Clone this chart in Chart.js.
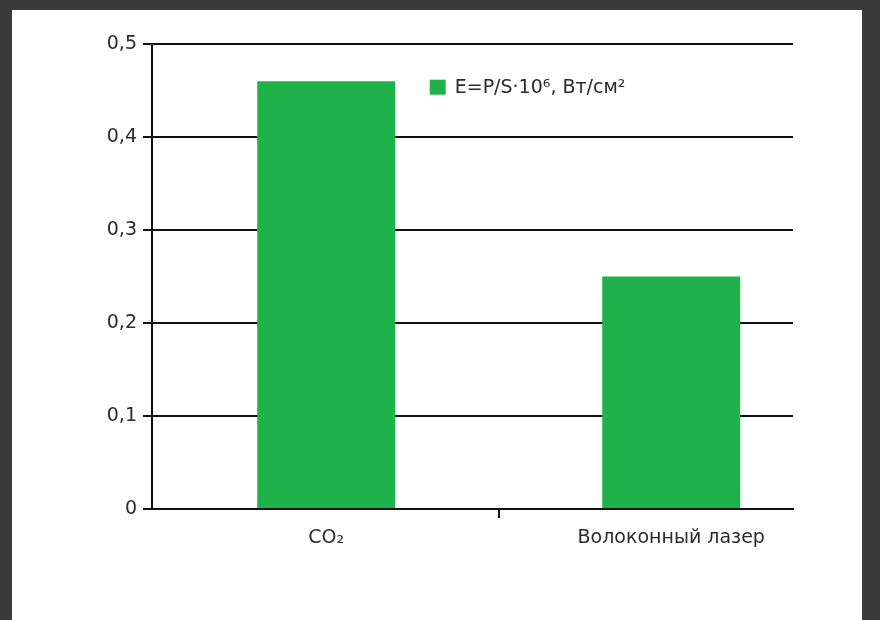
<!DOCTYPE html>
<html>
<head>
<meta charset="utf-8">
<script src="https://cdn.jsdelivr.net/npm/chart.js@4.4.1/dist/chart.umd.min.js"></script>
<style>
  html, body { margin: 0; padding: 0; }
  body { width: 880px; height: 620px; background: #3a3a3a; position: relative; overflow: hidden; }
  #panel { position: absolute; left: 12px; top: 10px; width: 850px; height: 610px; background: #ffffff; }
  #wrap { position: absolute; left: 0; top: 0; width: 880px; height: 620px; }
</style>
</head>
<body>
<div id="panel"></div>
<div id="wrap"><canvas id="chart" width="880" height="620"></canvas></div>
<script>
// Categories and values
const categories = ['CO\u2082', 'Волоконный лазер'];
const energyDensity = [0.46, 0.25];
const seriesLabel = 'E=P/S\u00B710\u2076, Вт/см\u00B2';
const yTickValues = [0, 0.1, 0.2, 0.3, 0.4, 0.5];

const GREEN = '#1fb24a';
const FONT = "'DejaVu Sans', 'Open Sans', sans-serif";

// Bars sit at x = 0, 1 on a linear axis; a divider tick sits between them
const points = categories.map((c, i) => ({ x: i, y: energyDensity[i] }));

const legendInPlot = {
  id: 'legendInPlot',
  afterDraw(chart) {
    const ds = chart.data.datasets[0];
    const { ctx } = chart;
    const x = chart.scales.x.getPixelForValue(0.3);
    const y = chart.scales.y.getPixelForValue(0.453);
    ctx.save();
    ctx.fillStyle = ds.backgroundColor;
    ctx.fillRect(x, y - 8, 16, 15);
    ctx.fillStyle = '#2b2b2b';
    ctx.font = '19px ' + FONT;
    ctx.textBaseline = 'middle';
    ctx.fillText(ds.label, x + 25, y);
    ctx.restore();
  }
};

new Chart(document.getElementById('chart'), {
  type: 'bar',
  data: {
    datasets: [{
      label: seriesLabel,
      data: points,
      backgroundColor: GREEN,
      borderWidth: 0,
      barPercentage: 0.8,
      categoryPercentage: 1.0
    }]
  },
  options: {
    responsive: false,
    animation: false,
    layout: { padding: { left: 0, top: 44, right: 87, bottom: 0 } },
    plugins: { legend: { display: false }, tooltip: { enabled: false } },
    scales: {
      x: {
        type: 'linear',
        offset: false,
        min: -0.505,
        max: 1.353,
        afterBuildTicks(scale) {
          scale.ticks = [{ value: 0 }, { value: 0.5 }, { value: 1 }];
        },
        afterFit(scale) { scale.height = 111; },
        border: { display: true, color: '#111', width: 2 },
        grid: {
          offset: false,
          drawOnChartArea: false,
          drawTicks: true,
          tickLength: 9,
          lineWidth: 2,
          tickColor: (ctx) => (ctx.tick && ctx.tick.value === 0.5 ? '#111' : 'rgba(0,0,0,0)')
        },
        ticks: {
          autoSkip: false,
          maxRotation: 0,
          padding: 9,
          color: '#2b2b2b',
          font: { family: FONT, size: 19 },
          callback: (v) => (v === 0 ? categories[0] : v === 1 ? categories[1] : '')
        }
      },
      y: {
        min: 0,
        max: 0.5,
        afterBuildTicks(scale) {
          scale.ticks = yTickValues.map(v => ({ value: v }));
        },
        afterFit(scale) { scale.width = 152; },
        border: { display: true, color: '#111', width: 2 },
        grid: {
          color: '#111',
          lineWidth: 2,
          drawTicks: true,
          tickLength: 9
        },
        ticks: {
          padding: 6,
          color: '#2b2b2b',
          font: { family: FONT, size: 19 },
          callback: (v) => (v === 0 ? '0' : v.toFixed(1).replace('.', ','))
        }
      }
    }
  },
  plugins: [legendInPlot]
});
</script>
</body>
</html>
